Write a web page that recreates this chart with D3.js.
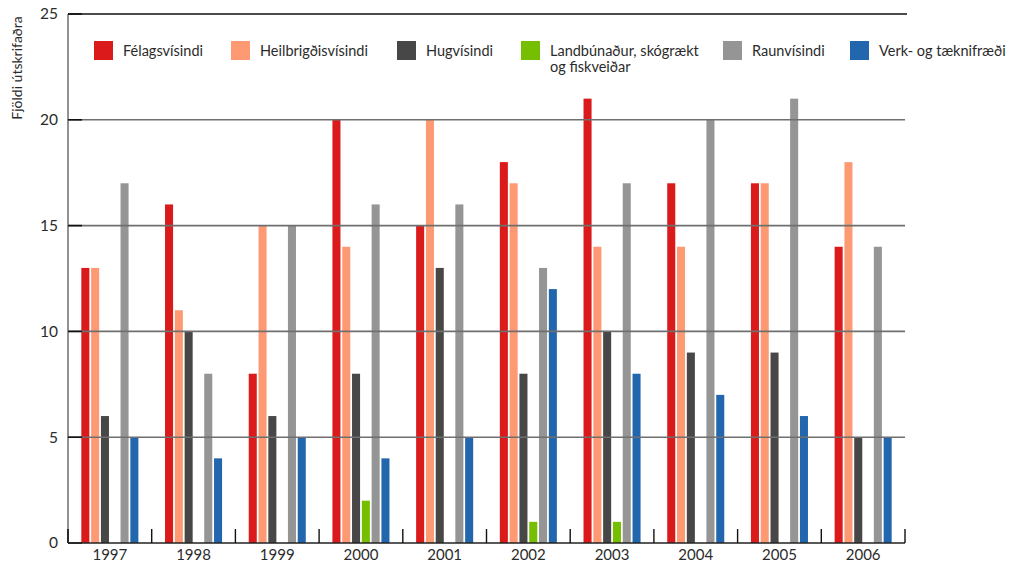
<!DOCTYPE html>
<html>
<head>
<meta charset="utf-8">
<script src="https://cdn.jsdelivr.net/npm/d3@7"></script>
<style>
  body { margin: 0; background: #fff; }
  svg text { font-family: Lato, "Open Sans", sans-serif; fill: #2b2b2b; }
</style>
</head>
<body>
<svg id="chart" width="1010" height="564"></svg>
<script>
// Útskrifaðir eftir fræðasviði og ári
const years = ["1997","1998","1999","2000","2001","2002","2003","2004","2005","2006"];
const seriesNames = ["Félagsvísindi","Heilbrigðisvísindi","Hugvísindi","Landbúnaður, skógrækt og fiskveiðar","Raunvísindi","Verk- og tæknifræði"];
const legendLines = [["Félagsvísindi"],["Heilbrigðisvísindi"],["Hugvísindi"],["Landbúnaður, skógrækt","og fiskveiðar"],["Raunvísindi"],["Verk- og tæknifræði"]];
const colors = ["#da1a1b","#fd9a73","#474747","#76bf00","#959595","#2267ae"];
const felagsvisindi   = [13,16,8,20,15,18,21,17,17,14];
const heilbrigdis     = [13,11,15,14,20,17,14,14,17,18];
const hugvisindi      = [6,10,6,8,13,8,10,9,9,5];
const landbunadur     = [0,0,0,2,0,1,1,0,0,0];
const raunvisindi     = [17,8,15,16,16,13,17,20,21,14];
const verkfraedi      = [5,4,5,4,5,12,8,7,6,5];
const yTicks = [0,5,10,15,20,25];
const yTitle = "Fjöldi útskrifaðra";

const values = [felagsvisindi, heilbrigdis, hugvisindi, landbunadur, raunvisindi, verkfraedi];

const svg = d3.select("#chart");
const plotLeft = 68, plotRight = 905, plotTop = 14, plotBottom = 543;

const x0 = d3.scaleBand().domain(years).range([plotLeft, plotRight]).padding(0);
const x1 = d3.scaleBand().domain(d3.range(seriesNames.length))
  .range([0, x0.bandwidth()]).paddingInner(0.18).paddingOuter(1.36);
const y = d3.scaleLinear().domain([0, 25]).range([plotBottom, plotTop]);

// bars
years.forEach((yr, i) => {
  const g = svg.append("g").attr("transform", `translate(${x0(yr)},0)`);
  values.forEach((vals, s) => {
    const v = vals[i];
    if (v <= 0) return;
    g.append("rect")
      .attr("x", x1(s))
      .attr("width", x1.bandwidth())
      .attr("y", y(v))
      .attr("height", y(0) - y(v))
      .attr("fill", colors[s]);
  });
});

// horizontal grid lines
svg.append("g").selectAll("line").data(yTicks.filter(d => d > 0)).join("line")
  .attr("x1", plotLeft).attr("x2", d => d === 25 ? plotRight + 2 : plotRight)
  .attr("y1", d => y(d)).attr("y2", d => y(d))
  .attr("stroke", d => d === 25 ? "#111" : "#6f6f6f").attr("stroke-width", 1.6);

// left axis
svg.append("line").attr("x1", plotLeft).attr("x2", plotLeft).attr("y1", plotTop).attr("y2", plotBottom)
  .attr("stroke", "#777").attr("stroke-width", 1.6);
svg.append("line").attr("x1", plotLeft).attr("x2", plotLeft).attr("y1", plotBottom - 14).attr("y2", plotBottom)
  .attr("stroke", "#111").attr("stroke-width", 1.6);
svg.append("g").selectAll("line").data(yTicks).join("line")
  .attr("x1", plotLeft).attr("x2", plotLeft + 14)
  .attr("y1", d => y(d)).attr("y2", d => y(d))
  .attr("stroke", "#111").attr("stroke-width", 1.6);
svg.append("g").selectAll("text").data(yTicks).join("text")
  .attr("x", 58).attr("y", d => y(d)).attr("dy", "0.35em")
  .attr("text-anchor", "end").attr("font-size", 15.5).text(d => d);

// bottom axis
svg.append("line").attr("x1", plotLeft).attr("x2", plotRight).attr("y1", plotBottom).attr("y2", plotBottom)
  .attr("stroke", "#222").attr("stroke-width", 1.6);
svg.append("g").selectAll("line").data(years.slice(1).map(d => x0(d)).concat([plotRight])).join("line")
  .attr("x1", d => d).attr("x2", d => d).attr("y1", plotBottom - 14).attr("y2", plotBottom)
  .attr("stroke", "#111").attr("stroke-width", 1.4);
svg.append("g").selectAll("text").data(years).join("text")
  .attr("x", d => x0(d) + x0.bandwidth() / 2).attr("y", 560)
  .attr("text-anchor", "middle").attr("font-size", 15).text(d => d);

// y title
svg.append("text").attr("transform", "translate(22,68) rotate(-90)")
  .attr("text-anchor", "middle").attr("font-size", 14).text(yTitle);

// legend
const legendX = [94, 231, 397, 521, 723, 850];
const legend = svg.append("g");
legendLines.forEach((lines, i) => {
  legend.append("rect").attr("x", legendX[i]).attr("y", 41).attr("width", 19).attr("height", 19)
    .attr("fill", colors[i]);
  const t = legend.append("text").attr("x", legendX[i] + 29).attr("y", 56).attr("font-size", 14.5);
  lines.forEach((ln, k) => {
    t.append("tspan").attr("x", legendX[i] + 29).attr("dy", k === 0 ? 0 : 16).text(ln);
  });
});
</script>
</body>
</html>
